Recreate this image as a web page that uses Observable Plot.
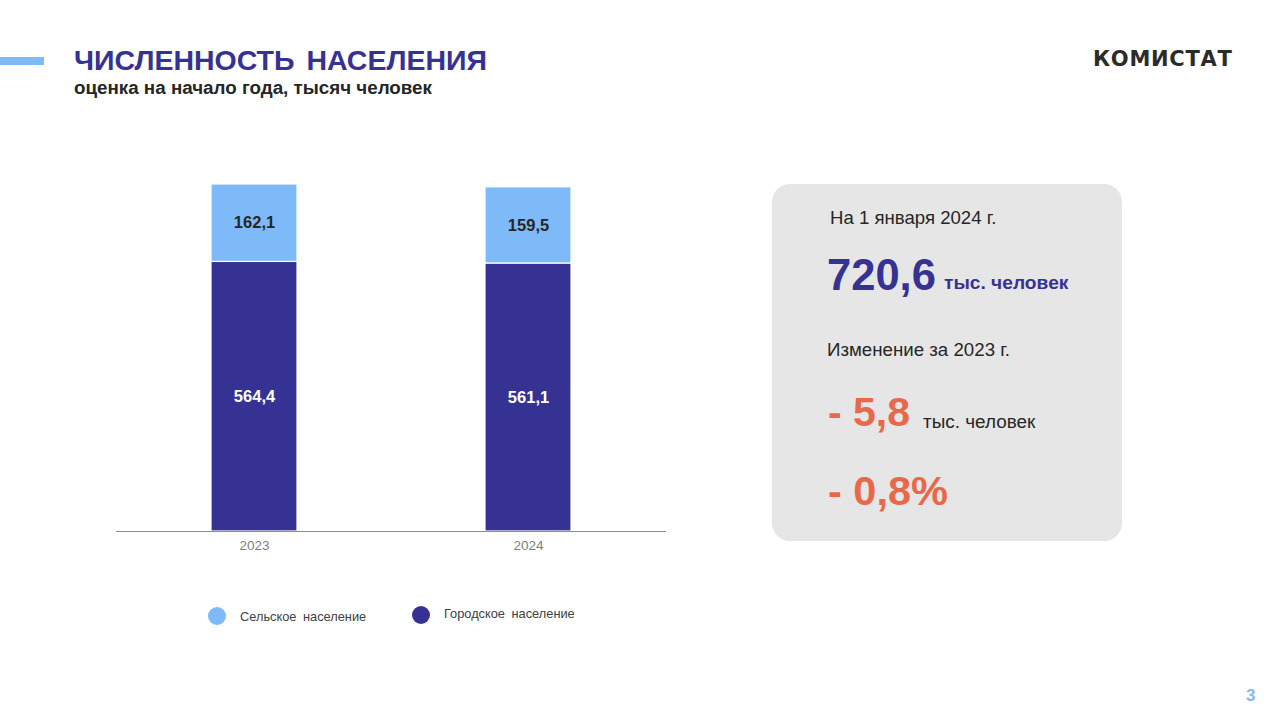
<!DOCTYPE html>
<html>
<head>
<meta charset="utf-8">
<script src="https://cdn.jsdelivr.net/npm/d3@7"></script>
<script src="https://cdn.jsdelivr.net/npm/@observablehq/plot@0.6"></script>
<style>
  html, body { margin: 0; padding: 0; }
  body { width: 1280px; height: 720px; background: #fff; position: relative; overflow: hidden;
         font-family: "Liberation Sans", Arial, sans-serif; }
  .abs { position: absolute; white-space: nowrap; }
  #accent { left: 0; top: 57px; width: 44px; height: 8px; background: #7fbaf8; }
  #title { left: 74px; top: 44px; font-size: 28.5px; font-weight: bold; color: #363294; word-spacing: 4px; }
  #subtitle { left: 74px; top: 77px; font-size: 18.8px; font-weight: bold; color: #262626; }
  #logo { left: 1093px; top: 47px; font-size: 21px; font-weight: 900; color: #2b2b2b; letter-spacing: 0.7px;
          font-family: "DejaVu Sans", sans-serif; }
  #chart { left: 116px; top: 168px; }
  .legend-dot { width: 18px; height: 18px; border-radius: 50%; }
  .legend-text { font-size: 12.8px; color: #404040; word-spacing: 3px; }
  #panel { left: 772px; top: 184px; width: 350px; height: 357px; background: #e6e6e6; border-radius: 18px; }
  .dark { color: #262626; }
  .blue { color: #363294; font-weight: bold; }
  .orange { color: #e8694a; font-weight: bold; }
  #page { left: 1246px; top: 686px; font-size: 17px; font-weight: bold; color: #7fbaf8; }
</style>
</head>
<body>
<div class="abs" id="accent"></div>
<div class="abs" id="title">ЧИСЛЕННОСТЬ НАСЕЛЕНИЯ</div>
<div class="abs" id="subtitle">оценка на начало года, тысяч человек</div>
<div class="abs" id="logo">КОМИСТАТ</div>

<div class="abs" id="chart"></div>

<div class="abs legend-dot" style="left:208px; top:607px; background:#7fbaf8;"></div>
<div class="abs legend-text" style="left:240px; top:609px;">Сельское население</div>
<div class="abs legend-dot" style="left:412px; top:606px; background:#363294;"></div>
<div class="abs legend-text" style="left:444px; top:606px;">Городское население</div>

<div class="abs" id="panel"></div>
<div class="abs dark" style="left:830px; top:207px; font-size:18.6px;">На 1 января 2024 г.</div>
<div class="abs blue" style="left:827px; top:251px; font-size:43.5px;">720,6</div>
<div class="abs blue" style="left:944px; top:272px; font-size:19.2px;">тыс. человек</div>
<div class="abs dark" style="left:827px; top:339px; font-size:18.7px;">Изменение за 2023 г.</div>
<div class="abs orange" style="left:828px; top:389px; font-size:41px;">- 5,8</div>
<div class="abs dark" style="left:923px; top:411px; font-size:18.9px;">тыс. человек</div>
<div class="abs orange" style="left:828px; top:467px; font-size:41.5px;">- 0,8%</div>

<div class="abs" id="page">3</div>

<script>
const years = ["2023", "2024"];
const seriesNames = ["Городское население", "Сельское население"];
const urban = [564.4, 561.1];
const rural = [162.1, 159.5];
const seriesColors = ["#363294", "#7fbaf8"];
const labelColors = ["#ffffff", "#262626"];

const rows = [];
years.forEach((y, i) => {
  rows.push({year: y, series: seriesNames[0], value: urban[i]});
  rows.push({year: y, series: seriesNames[1], value: rural[i]});
});
const fmt = v => v.toFixed(1).replace(".", ",");

const chart = Plot.plot({
  width: 550,
  height: 393,
  marginLeft: 0,
  marginRight: 0,
  marginTop: 0,
  marginBottom: 30,
  style: {fontFamily: "'Liberation Sans', Arial, sans-serif", background: "transparent"},
  x: {domain: years, paddingInner: 0.687, paddingOuter: 0.3436, label: null},
  y: {domain: [0, 760], axis: null},
  color: {domain: seriesNames, range: seriesColors},
  marks: [
    Plot.barY(rows, Plot.stackY({x: "year", y: "value", fill: "series", stroke: "#ffffff", strokeWidth: 1.2})),
    Plot.text(rows, Plot.stackY({
      x: "year", y: "value", text: d => fmt(d.value),
      fill: d => labelColors[seriesNames.indexOf(d.series)],
      fontSize: 16.5, fontWeight: "bold"
    })),
    Plot.ruleY([0], {stroke: "#8c8c8c", strokeWidth: 1.2}),
    Plot.axisX({tickSize: 0, tickPadding: 9, fontSize: 13.5, color: "#7f7f7f", label: null})
  ]
});
document.getElementById("chart").appendChild(chart);
</script>
</body>
</html>
